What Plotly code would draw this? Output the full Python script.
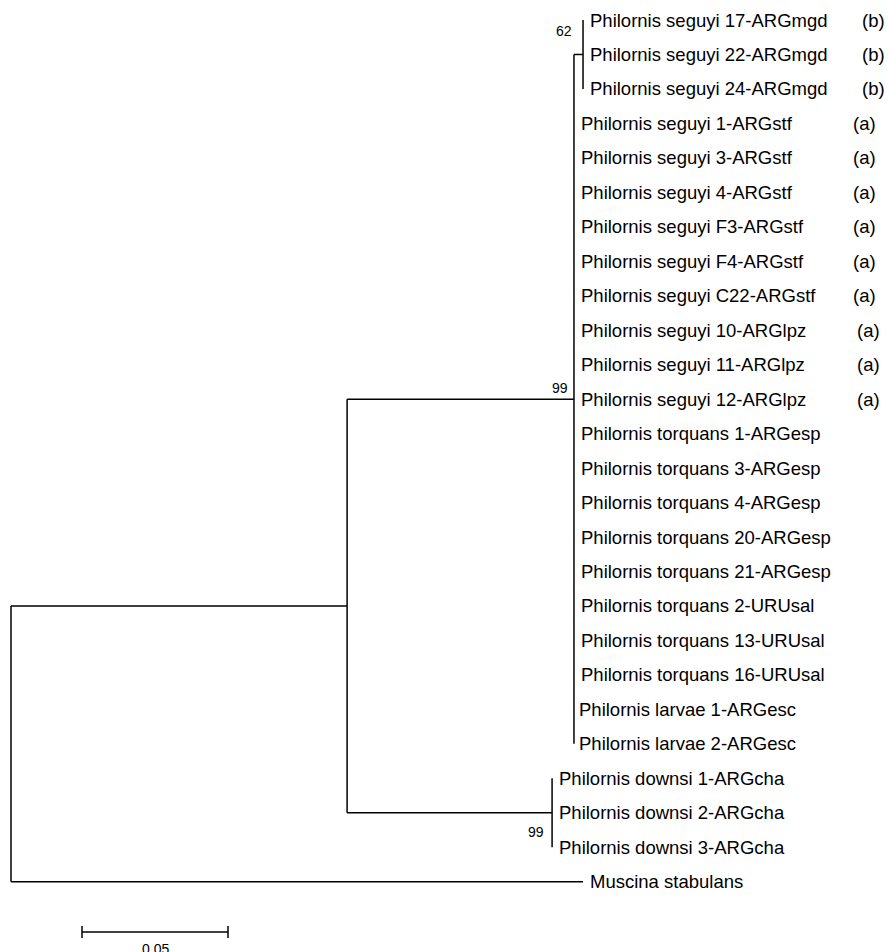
import plotly.graph_objects as go

# ---------------- data ----------------
taxa = [
    "Philornis seguyi 17-ARGmgd", "Philornis seguyi 22-ARGmgd", "Philornis seguyi 24-ARGmgd",
    "Philornis seguyi 1-ARGstf", "Philornis seguyi 3-ARGstf", "Philornis seguyi 4-ARGstf",
    "Philornis seguyi F3-ARGstf", "Philornis seguyi F4-ARGstf", "Philornis seguyi C22-ARGstf",
    "Philornis seguyi 10-ARGlpz", "Philornis seguyi 11-ARGlpz", "Philornis seguyi 12-ARGlpz",
    "Philornis torquans 1-ARGesp", "Philornis torquans 3-ARGesp", "Philornis torquans 4-ARGesp",
    "Philornis torquans 20-ARGesp", "Philornis torquans 21-ARGesp",
    "Philornis torquans 2-URUsal", "Philornis torquans 13-URUsal", "Philornis torquans 16-URUsal",
    "Philornis larvae 1-ARGesc", "Philornis larvae 2-ARGesc",
    "Philornis downsi 1-ARGcha", "Philornis downsi 2-ARGcha", "Philornis downsi 3-ARGcha",
    "Muscina stabulans",
]
haplogroup = ["(b)"] * 3 + ["(a)"] * 9 + [""] * 14

# branch lengths (substitutions/site)
br_ingroup = 0.1151        # root -> Philornis
br_outgroup = 0.1959       # root -> Muscina stabulans
br_seguyi_torq = 0.0777    # Philornis -> seguyi/torquans/larvae clade
br_downsi = 0.0702         # Philornis -> downsi clade
br_mgd = 0.0031            # seguyi/torquans clade -> mgd subclade
bootstrap_mgd = 62
bootstrap_seguyi_torq = 99
bootstrap_downsi = 99
scale_bar_value = 0.05

# ---------------- tree geometry ----------------
mgd_rows = [0, 1, 2]
st_rows = list(range(3, 22))
downsi_rows = [22, 23, 24]
out_row = 25

x_root = 0.0
x_ing = x_root + br_ingroup
x_st = x_ing + br_seguyi_torq
x_mgd = x_st + br_mgd
x_dow = x_ing + br_downsi
x_out = x_root + br_outgroup

y_mgd = sum(mgd_rows) / len(mgd_rows)
y_st = (y_mgd + st_rows[-1]) / 2
y_dow = sum(downsi_rows) / len(downsi_rows)
y_ing = (y_st + y_dow) / 2

xs, ys = [], []
def seg(x0, y0, x1, y1):
    xs.extend([x0, x1, None]); ys.extend([y0, y1, None])

# root
seg(x_root, y_ing, x_root, out_row)
seg(x_root, out_row, x_out, out_row)
seg(x_root, y_ing, x_ing, y_ing)
# ingroup node
seg(x_ing, y_st, x_ing, y_dow)
seg(x_ing, y_st, x_st, y_st)
seg(x_ing, y_dow, x_dow, y_dow)
# seguyi/torquans node
seg(x_st, y_mgd, x_st, st_rows[-1])
seg(x_st, y_mgd, x_mgd, y_mgd)
# mgd node
seg(x_mgd, mgd_rows[0], x_mgd, mgd_rows[-1])
# downsi node
seg(x_dow, downsi_rows[0], x_dow, downsi_rows[-1])

tip_x = {}
for r in mgd_rows: tip_x[r] = x_mgd
for r in st_rows: tip_x[r] = x_st
for r in downsi_rows: tip_x[r] = x_dow
tip_x[out_row] = x_out

# ---------------- layout constants ----------------
W, H = 889, 952
PX_PER_UNIT = 2920.0
ROOT_PX = 11
ROW0_PX, ROW_PX = 20.0, 34.47
x_range = [-ROOT_PX / PX_PER_UNIT, (W - ROOT_PX) / PX_PER_UNIT]
y_range = [(H - ROW0_PX) / ROW_PX, -ROW0_PX / ROW_PX]

FONT = "Liberation Sans, Arial, Helvetica, sans-serif"
LINE_W = 1.5

fig = go.Figure()
fig.add_trace(go.Scatter(x=xs, y=ys, mode="lines",
                         line=dict(color="black", width=LINE_W),
                         hoverinfo="skip", showlegend=False))

# scale bar
sb_x0 = (82 - ROOT_PX) / PX_PER_UNIT
sb_y = (932 - ROW0_PX) / ROW_PX
tick_h = 6 / ROW_PX
fig.add_trace(go.Scatter(
    x=[sb_x0, sb_x0 + scale_bar_value, None, sb_x0, sb_x0, None,
       sb_x0 + scale_bar_value, sb_x0 + scale_bar_value],
    y=[sb_y, sb_y, None, sb_y - tick_h, sb_y + tick_h, None,
       sb_y - tick_h, sb_y + tick_h],
    mode="lines", line=dict(color="black", width=LINE_W),
    hoverinfo="skip", showlegend=False))

annotations = []
for i, name in enumerate(taxa):
    lab_shift = 3 if "larvae" in name else 5
    annotations.append(dict(x=tip_x[i], y=i, text=name, showarrow=False,
                            xanchor="left", yanchor="middle", xshift=lab_shift,
                            font=dict(family=FONT, size=18.5, color="black")))
    if haplogroup[i]:
        shift = 281 if "lpz" in name else 277
        annotations.append(dict(x=tip_x[i], y=i, text=haplogroup[i], showarrow=False,
                                xanchor="left", yanchor="middle", xshift=shift,
                                font=dict(family=FONT, size=18.5, color="black")))

# bootstrap labels
annotations.append(dict(x=x_mgd, y=y_mgd, text=str(bootstrap_mgd), showarrow=False,
                        xanchor="right", yanchor="bottom", xshift=-9, yshift=13,
                        font=dict(family=FONT, size=14, color="black")))
annotations.append(dict(x=x_st, y=y_st, text=str(bootstrap_seguyi_torq), showarrow=False,
                        xanchor="right", yanchor="bottom", xshift=-4, yshift=1,
                        font=dict(family=FONT, size=14, color="black")))
annotations.append(dict(x=x_dow, y=y_dow, text=str(bootstrap_downsi), showarrow=False,
                        xanchor="right", yanchor="top", xshift=-6, yshift=-9,
                        font=dict(family=FONT, size=14, color="black")))
# scale label
annotations.append(dict(x=sb_x0 + scale_bar_value / 2, y=sb_y, text=f"{scale_bar_value:.2f}",
                        showarrow=False, xanchor="center", yanchor="top", yshift=-7,
                        font=dict(family=FONT, size=14, color="black")))

fig.update_layout(
    width=W, height=H,
    margin=dict(l=0, r=0, t=0, b=0),
    paper_bgcolor="white", plot_bgcolor="white",
    xaxis=dict(range=x_range, visible=False, fixedrange=True),
    yaxis=dict(range=y_range, visible=False, fixedrange=True),
    annotations=annotations,
    showlegend=False,
)
fig.write_html(
    "out.html",
    config={"displayModeBar": False},
    post_script="document.body.style.margin='0';document.body.style.overflow='hidden';",
)
